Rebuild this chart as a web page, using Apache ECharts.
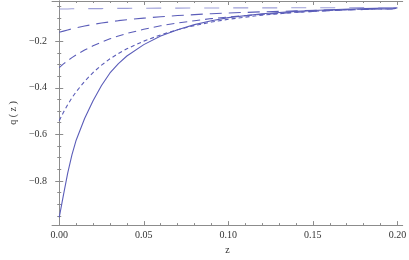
<!DOCTYPE html>
<html><head><meta charset="utf-8">
<script src="https://cdn.jsdelivr.net/npm/echarts@6/dist/echarts.min.js"></script>
<style>html,body{margin:0;padding:0;background:#fff}#c{width:409px;height:260px}</style>
</head><body><div id="c"></div>
<script>
const zGrid = [0, 0.0025, 0.005, 0.0075, 0.01, 0.015, 0.02, 0.025, 0.03, 0.035, 0.04, 0.05, 0.06, 0.07, 0.08, 0.09, 0.1, 0.12, 0.14, 0.16, 0.18, 0.2];
const qSolid = [-0.957, -0.86, -0.767, -0.688, -0.625, -0.532, -0.455, -0.39, -0.336, -0.296, -0.263, -0.214, -0.177, -0.15, -0.128, -0.111, -0.098, -0.081, -0.071, -0.064, -0.059, -0.056];
const qShortDash = [-0.541, -0.505, -0.472, -0.443, -0.417, -0.372, -0.334, -0.302, -0.275, -0.252, -0.232, -0.199, -0.172, -0.15, -0.132, -0.117, -0.105, -0.087, -0.075, -0.067, -0.061, -0.058];
const qMediumDash = [-0.313, -0.297, -0.283, -0.27, -0.258, -0.237, -0.219, -0.203, -0.189, -0.177, -0.166, -0.148, -0.133, -0.121, -0.111, -0.102, -0.095, -0.084, -0.075, -0.068, -0.063, -0.059];
const qLongDash = [-0.161, -0.156, -0.151, -0.146, -0.142, -0.134, -0.127, -0.121, -0.116, -0.111, -0.107, -0.1, -0.094, -0.089, -0.085, -0.081, -0.078, -0.073, -0.069, -0.065, -0.062, -0.06];
const qLightDash = [-0.061, -0.061, -0.0605, -0.06, -0.06, -0.0595, -0.059, -0.059, -0.0585, -0.058, -0.058, -0.0575, -0.057, -0.057, -0.0565, -0.0565, -0.056, -0.056, -0.0555, -0.0555, -0.055, -0.055];
const xMajor = [0, 0.05, 0.1, 0.15, 0.2];
const xMinor = [0.01, 0.02, 0.03, 0.04, 0.06, 0.07, 0.08, 0.09, 0.11, 0.12, 0.13, 0.14, 0.16, 0.17, 0.18, 0.19];
const yMajor = [-0.8, -0.6, -0.4, -0.2];
const yMinor = [-0.95, -0.9, -0.85, -0.75, -0.7, -0.65, -0.55, -0.5, -0.45, -0.35, -0.3, -0.25, -0.15, -0.1, -0.05];

const X_MIN = -0.00426, X_MAX = 0.20312, Y_MIN = -0.9902, Y_MAX = -0.0264;
const frame = '#8c8c8c';
const font = 'Liberation Serif';

function pairs(vals){ return zGrid.map((z,i)=>[z, vals[i]]); }

function xAx(pos, ticks, len, labels, showLine, name){
  return {
    type:'value', position:pos, min:X_MIN, max:X_MAX,
    name: name||'', nameLocation:'middle', nameGap:17,
    nameTextStyle:{fontFamily:font, fontSize:10, color:'#333'},
    axisLine:{show:showLine, lineStyle:{color:frame, width:1}},
    axisTick:{show:true, inside:true, length:len, customValues:ticks, lineStyle:{color:frame}},
    axisLabel:{show:labels, customValues:ticks, margin:5, fontFamily:font, fontSize:10, color:'#333',
      formatter:v=>v.toFixed(2)},
    splitLine:{show:false}
  };
}
function yAx(pos, ticks, len, labels, showLine, name){
  return {
    type:'value', position:pos, min:Y_MIN, max:Y_MAX,
    name: name||'', nameLocation:'middle', nameGap:29,
    nameTextStyle:{fontFamily:font, fontSize:10, color:'#333'},
    axisLine:{show:showLine, lineStyle:{color:frame, width:1}},
    axisTick:{show:true, inside:true, length:len, customValues:ticks, lineStyle:{color:frame}},
    axisLabel:{show:labels, customValues:ticks, margin:5, fontFamily:font, fontSize:10, color:'#333',
      formatter:v=>'\u2212'+Math.abs(v).toFixed(1)},
    splitLine:{show:false}
  };
}

const col = '#5b5db9';
const curves = [
  {d:qSolid, dash:'solid', c:col},
  {d:qShortDash, dash:[4,3], c:col},
  {d:qMediumDash, dash:[8,5], c:col},
  {d:qLongDash, dash:[12,7], c:col},
  {d:qLightDash, dash:[15,14], c:'#9d9fd8'}
];

const chart = echarts.init(document.getElementById('c'), null, {renderer:'canvas'});
chart.setOption({
  animation:false,
  grid:{left:41, top:1, width:365, height:226, containLabel:false},
  xAxis:[
    xAx('bottom', xMajor, 4, true, true, 'z'),
    xAx('bottom', xMinor, 2, false, false),
    xAx('top', xMajor, 4, false, true),
    xAx('top', xMinor, 2, false, false)
  ],
  yAxis:[
    yAx('left', yMajor, 4, true, true, 'q ( z )'),
    yAx('left', yMinor, 2, false, false),
    yAx('right', yMajor, 4, false, true),
    yAx('right', yMinor, 2, false, false)
  ],
  series: curves.map(s=>({
    type:'line', xAxisIndex:0, yAxisIndex:0, data:pairs(s.d), showSymbol:false,
    smooth:false,
    lineStyle:{color:s.c, width:1.1, type:s.dash}
  }))
});
</script></body></html>
